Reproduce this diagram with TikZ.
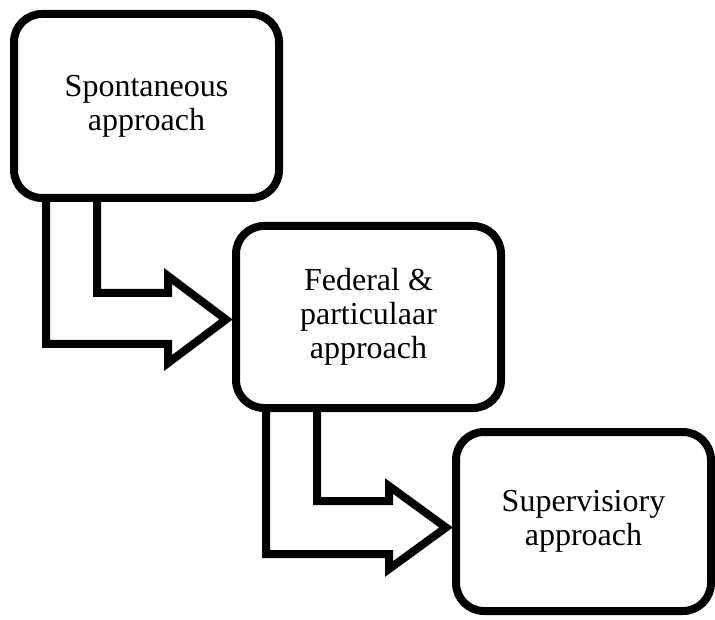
\documentclass[tikz,border=0pt]{standalone}
\usepackage{fontspec}
\setmainfont{Liberation Serif}
\usetikzlibrary{calc}
\tikzset{
  x=1pt, y=-1pt,
  stagebox/.style={draw=black, fill=white, line width=8pt, rounded corners=28pt,
    align=center, inner sep=0pt, font=\fontsize{32}{34}\selectfont},
  bentarrow/.style={draw=black, fill=white, line width=8pt, line join=miter, miter limit=10}
}
\begin{document}
\begin{tikzpicture}
\useasboundingbox (0,0) rectangle (715,620);
% arrows first (boxes drawn on top)
\coordinate (s0) at (146.5,106);
\coordinate (f0) at (368.5,317);
\coordinate (v0) at (583.5,521.5);
% arrow 1
\draw[bentarrow] (46,190) -- (46,344) -- (168,344) -- (168,363) -- (226,319.5)
  -- (168,276) -- (168,293) -- (97,293) -- (97,190);
% arrow 2
\draw[bentarrow] (266,400) -- (266,554) -- (389,554) -- (389,569) -- (446,527.5)
  -- (389,486) -- (389,501) -- (317,501) -- (317,400);
% boxes
\node[stagebox, minimum width=265pt, minimum height=184pt] (s) at (s0)
  {Spontaneous\\approach};
\node[stagebox, minimum width=265pt, minimum height=182pt] (f) at (f0)
  {Federal \&\\particulaar\\approach};
\node[stagebox, minimum width=255pt, minimum height=179pt] (v) at (v0)
  {Supervisiory\\approach};
\end{tikzpicture}
\end{document}
